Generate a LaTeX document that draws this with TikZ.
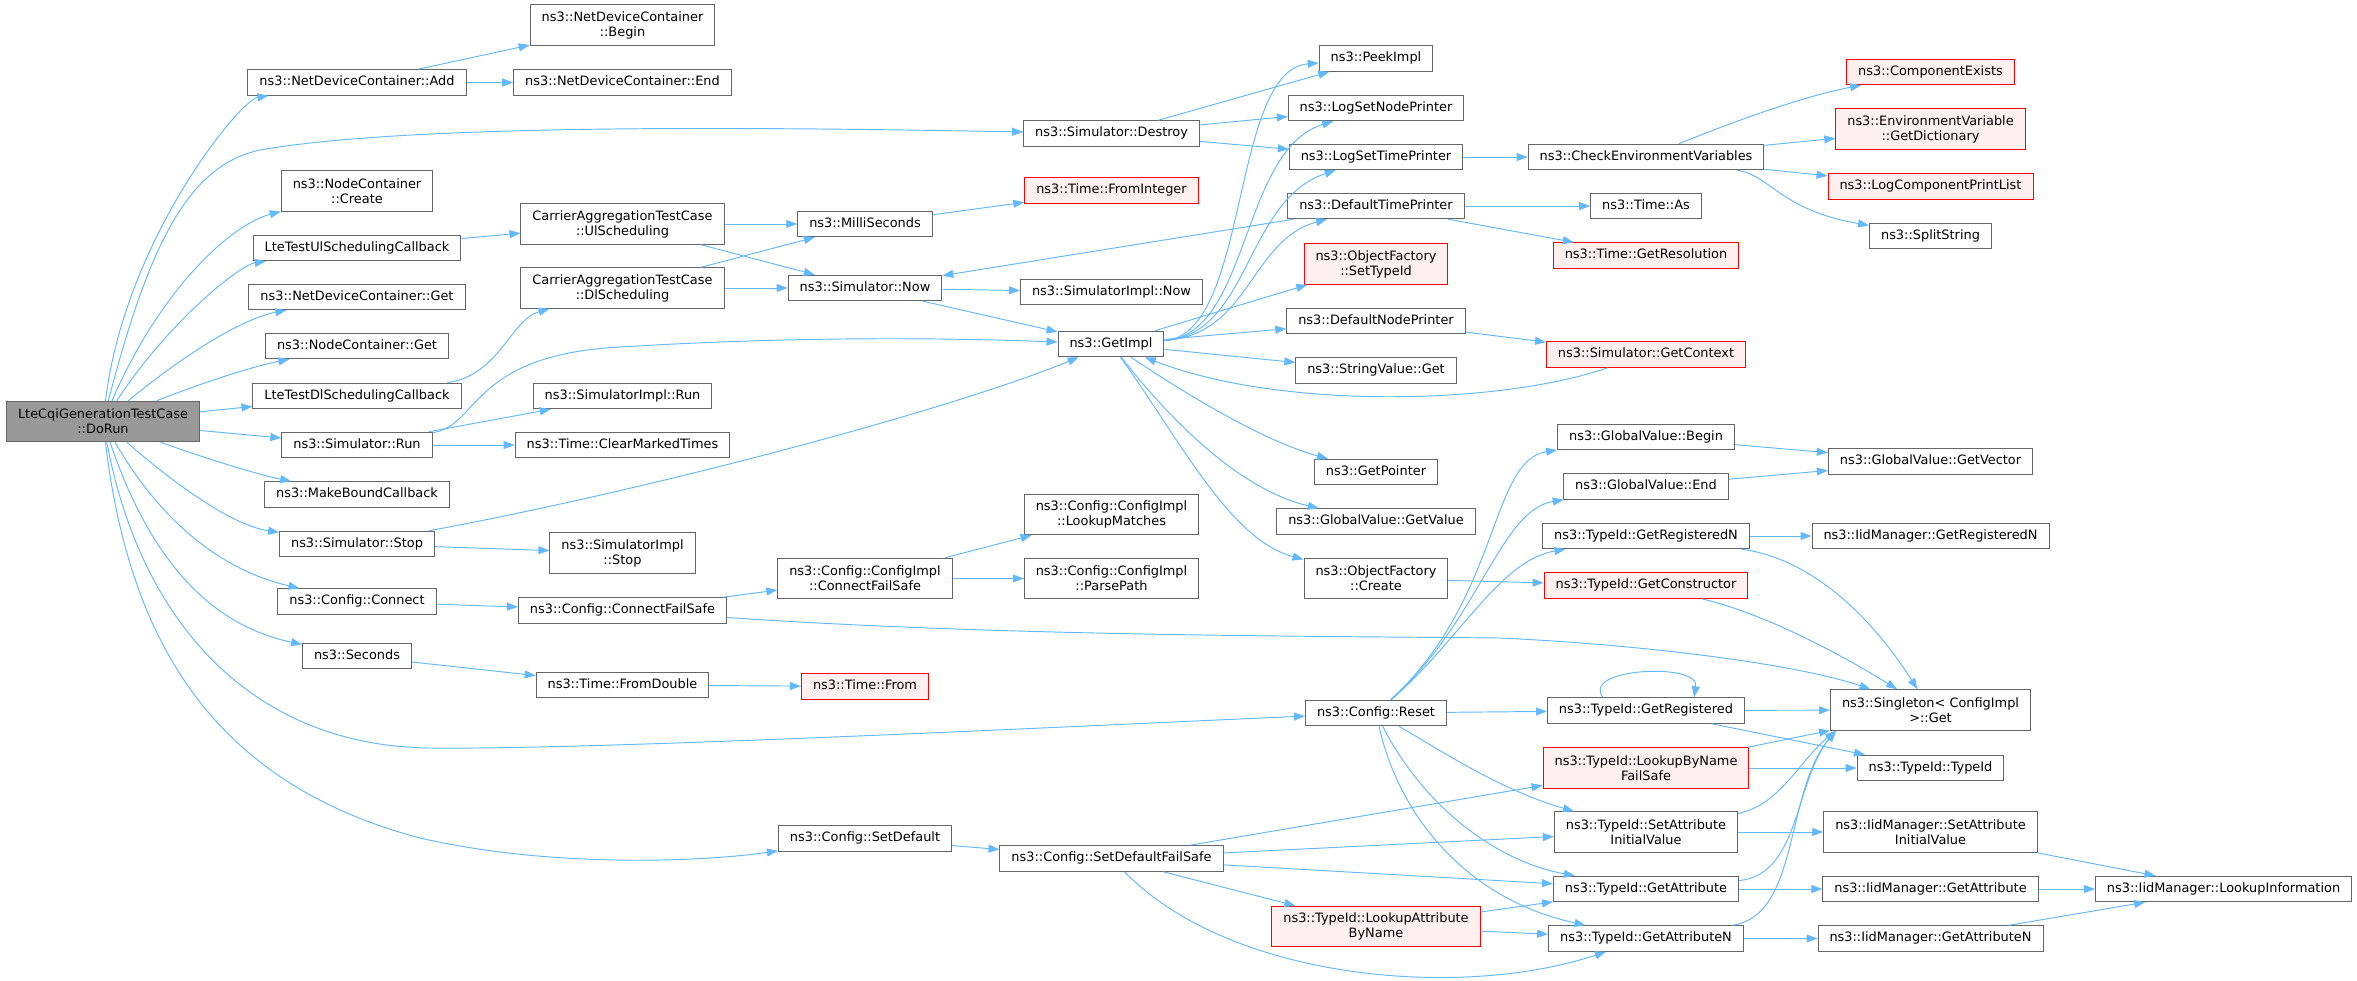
\documentclass[tikz,border=0pt]{standalone}
\usepackage{fontspec}
\setmainfont{DejaVu Sans}
\usepackage{tikz}
\usetikzlibrary{arrows.meta}
\definecolor{edgeblue}{HTML}{63B8FF}
\definecolor{boxgray}{HTML}{666666}
\definecolor{hotfill}{HTML}{FFF0F0}
\definecolor{rootfill}{HTML}{999999}

\begin{document}
\begin{tikzpicture}[x=1pt,y=-1pt,
    fnbase/.style={draw=boxgray, line width=1pt, fill=white, inner xsep=11.5pt, inner ysep=2pt, font=\fontsize{12.9}{15}\selectfont},
    fn/.style={fnbase, minimum height=25.5pt, text height=9.6pt, text depth=2.9pt},
    fnn/.style={fnbase, minimum height=40.5pt, align=center},
    hot/.style={draw=red, fill=hotfill},
    root/.style={fill=rootfill},
    call/.style={draw=edgeblue, line width=0.95pt, -{Triangle[length=11pt,width=8pt]}}]
    \useasboundingbox (0,0) rectangle (2357,981);

    % The caller
    \node[fnn, root] (run) at (103,421.5) {LteCqiGenerationTestCase\\::DoRun};

    % Functions called by DoRun
    \node[fn] (ndcadd) at (357,82.5) {ns3::NetDeviceContainer::Add};
    \node[fnn] (nccreate) at (357,191) {ns3::NodeContainer\\::Create};
    \node[fn] (ulcb) at (357,248) {LteTestUlSchedulingCallback};
    \node[fn] (ndcget) at (357,297) {ns3::NetDeviceContainer::Get};
    \node[fn] (ncget) at (357,346) {ns3::NodeContainer::Get};
    \node[fn] (dlcb) at (357,396) {LteTestDlSchedulingCallback};
    \node[fn] (simrun) at (357,445) {ns3::Simulator::Run};
    \node[fn] (mkcb) at (357,494.5) {ns3::MakeBoundCallback};
    \node[fn] (simstop) at (357,544) {ns3::Simulator::Stop};
    \node[fn] (connect) at (357,601.5) {ns3::Config::Connect};
    \node[fn] (seconds) at (357,656) {ns3::Seconds};

    % Third column
    \node[fnn] (ndcbegin) at (622.5,25) {ns3::NetDeviceContainer\\::Begin};
    \node[fn] (ndcend) at (622.5,82.5) {ns3::NetDeviceContainer::End};
    \node[fnn] (ulsched) at (622.5,224) {CarrierAggregationTestCase\\::UlScheduling};
    \node[fnn] (dlsched) at (622.5,288) {CarrierAggregationTestCase\\::DlScheduling};
    \node[fn] (implrun) at (622.5,396) {ns3::SimulatorImpl::Run};
    \node[fn] (clearmarked) at (622.5,445) {ns3::Time::ClearMarkedTimes};
    \node[fnn] (implstop) at (622.5,553) {ns3::SimulatorImpl\\::Stop};
    \node[fn] (connectfs) at (622.5,610.5) {ns3::Config::ConnectFailSafe};
    \node[fn] (fromdouble) at (622.5,685) {ns3::Time::FromDouble};

    % Fourth column
    \node[fn] (milli) at (865,224) {ns3::MilliSeconds};
    \node[fn] (now) at (865,288) {ns3::Simulator::Now};
    \node[fnn] (implconnect) at (865,578.5) {ns3::Config::ConfigImpl\\::ConnectFailSafe};
    \node[fn, hot] (timefrom) at (865,686.5) {ns3::Time::From};
    \node[fn] (setdefault) at (865,838.5) {ns3::Config::SetDefault};

    % Fifth column
    \node[fn] (destroy) at (1111.5,133.5) {ns3::Simulator::Destroy};
    \node[fn, hot] (frominteger) at (1111.5,190.5) {ns3::Time::FromInteger};
    \node[fn] (implnow) at (1111.5,292) {ns3::SimulatorImpl::Now};
    \node[fn] (getimpl) at (1111,344) {ns3::GetImpl};
    \node[fnn] (lookupmatches) at (1111.5,514.5) {ns3::Config::ConfigImpl\\::LookupMatches};
    \node[fnn] (parsepath) at (1111.5,578.5) {ns3::Config::ConfigImpl\\::ParsePath};
    \node[fn] (setdefaultfs) at (1111.5,858.5) {ns3::Config::SetDefaultFailSafe};

    % Sixth column
    \node[fn] (peekimpl) at (1376,58.5) {ns3::PeekImpl};
    \node[fn] (lognode) at (1376,108) {ns3::LogSetNodePrinter};
    \node[fn] (logtime) at (1376,157) {ns3::LogSetTimePrinter};
    \node[fn] (deftime) at (1376,206) {ns3::DefaultTimePrinter};
    \node[fnn, hot] (settypeid) at (1376,264) {ns3::ObjectFactory\\::SetTypeId};
    \node[fn] (defnode) at (1376,321) {ns3::DefaultNodePrinter};
    \node[fn] (strget) at (1376,370.5) {ns3::StringValue::Get};
    \node[fn] (getpointer) at (1376,472) {ns3::GetPointer};
    \node[fn] (gvgetvalue) at (1376,521.5) {ns3::GlobalValue::GetValue};
    \node[fnn] (ofcreate) at (1376,578.5) {ns3::ObjectFactory\\::Create};
    \node[fn] (reset) at (1376,713) {ns3::Config::Reset};
    \node[fnn, hot] (lookupattr) at (1376,926.5) {ns3::TypeId::LookupAttribute\\ByName};

    % Seventh column
    \node[fn] (checkenv) at (1646,157) {ns3::CheckEnvironmentVariables};
    \node[fn] (timeas) at (1646,206) {ns3::Time::As};
    \node[fn, hot] (getres) at (1646,255.5) {ns3::Time::GetResolution};
    \node[fn, hot] (getcontext) at (1646,354.5) {ns3::Simulator::GetContext};
    \node[fn] (gvbegin) at (1646,437) {ns3::GlobalValue::Begin};
    \node[fn] (gvend) at (1646,486.5) {ns3::GlobalValue::End};
    \node[fn] (getregn) at (1646,536) {ns3::TypeId::GetRegisteredN};
    \node[fn, hot] (getctor) at (1646,585.5) {ns3::TypeId::GetConstructor};
    \node[fn] (getreg) at (1646,710.5) {ns3::TypeId::GetRegistered};
    \node[fnn, hot] (lookupname) at (1646,768) {ns3::TypeId::LookupByName\\FailSafe};
    \node[fnn] (setattrinit) at (1646,832) {ns3::TypeId::SetAttribute\\InitialValue};
    \node[fn] (getattr) at (1646,889) {ns3::TypeId::GetAttribute};
    \node[fn] (getattrn) at (1646,938.5) {ns3::TypeId::GetAttributeN};

    % Eighth column
    \node[fn, hot] (compexists) at (1930.5,72) {ns3::ComponentExists};
    \node[fnn, hot] (getdict) at (1930.5,129) {ns3::EnvironmentVariable\\::GetDictionary};
    \node[fn, hot] (printlist) at (1930.5,186.5) {ns3::LogComponentPrintList};
    \node[fn] (splitstring) at (1930.5,236) {ns3::SplitString};
    \node[fn] (gvgetvector) at (1930.5,461.5) {ns3::GlobalValue::GetVector};
    \node[fn] (iidgetregn) at (1930.5,536) {ns3::IidManager::GetRegisteredN};
    \node[fnn] (singleton) at (1930.5,710) {ns3::Singleton< ConfigImpl\\>::Get};
    \node[fn] (typeidctor) at (1930.5,768) {ns3::TypeId::TypeId};
    \node[fnn] (iidsetattr) at (1930.5,832) {ns3::IidManager::SetAttribute\\InitialValue};
    \node[fn] (iidgetattr) at (1930.5,889) {ns3::IidManager::GetAttribute};
    \node[fn] (iidgetattrn) at (1930.5,938.5) {ns3::IidManager::GetAttributeN};
    \node[fn] (lookupinfo) at (2223.5,889) {ns3::IidManager::LookupInformation};

    % Calls from DoRun
    \draw[call] (run) .. controls (125,240) and (240,100) .. (ndcadd);
    \draw[call] (run) .. controls (150,240) and (190,165) .. (260,150) .. controls (420,122) and (800,128) .. (destroy);
    \draw[call] (run) .. controls (160,290) and (230,225) .. (nccreate);
    \draw[call] (run) .. controls (170,320) and (240,265) .. (ulcb);
    \draw[call] (run) .. controls (190,350) and (245,318) .. (ndcget);
    \draw[call] (run) .. controls (210,380) and (255,366) .. (ncget);
    \draw[call] (run) -- (dlcb);
    \draw[call] (run) -- (simrun);
    \draw[call] (run) .. controls (210,460) and (260,475) .. (mkcb);
    \draw[call] (run) .. controls (170,480) and (230,525) .. (simstop);
    \draw[call] (run) .. controls (160,520) and (220,570) .. (connect);
    \draw[call] (run) .. controls (150,560) and (210,625) .. (seconds);
    \draw[call] (run) .. controls (140,620) and (250,746) .. (430,748) .. controls (600,750) and (1100,725) .. (reset);
    \draw[call] (run) .. controls (130,650) and (220,785) .. (420,838) .. controls (550,868) and (700,862) .. (setdefault);

    % Second level
    \draw[call] (ndcadd) -- (ndcbegin);
    \draw[call] (ndcadd) -- (ndcend);
    \draw[call] (ulcb) -- (ulsched);
    \draw[call] (dlcb) .. controls (500,375) and (510,320) .. (dlsched);
    \draw[call] (ulsched) -- (milli);
    \draw[call] (ulsched) -- (now);
    \draw[call] (dlsched) -- (milli);
    \draw[call] (dlsched) -- (now);
    \draw[call] (milli) -- (frominteger);
    \draw[call] (now) -- (implnow);
    \draw[call] (now) -- (getimpl);
    \draw[call] (simrun) -- (implrun);
    \draw[call] (simrun) -- (clearmarked);
    \draw[call] (simrun) .. controls (480,425) and (470,355) .. (620,347) .. controls (800,336) and (950,338) .. (getimpl);
    \draw[call] (simstop) -- (implstop);
    \draw[call] (simstop) .. controls (650,490) and (950,410) .. (getimpl);
    \draw[call] (connect) -- (connectfs);
    \draw[call] (connectfs) -- (implconnect);
    \draw[call] (connectfs) .. controls (1000,636) and (1300,636) .. (1500,638) .. controls (1650,645) and (1800,665) .. (singleton);
    \draw[call] (implconnect) -- (lookupmatches);
    \draw[call] (implconnect) -- (parsepath);
    \draw[call] (seconds) -- (fromdouble);
    \draw[call] (fromdouble) -- (timefrom);
    \draw[call] (setdefault) -- (setdefaultfs);

    % Destroy and GetImpl
    \draw[call] (destroy) -- (peekimpl);
    \draw[call] (destroy) -- (lognode);
    \draw[call] (destroy) -- (logtime);
    \draw[call] (getimpl) .. controls (1250,335) and (1230,70) .. (peekimpl);
    \draw[call] (getimpl) .. controls (1250,335) and (1240,150) .. (lognode);
    \draw[call] (getimpl) .. controls (1250,335) and (1245,200) .. (logtime);
    \draw[call] (getimpl) .. controls (1250,335) and (1250,240) .. (deftime);
    \draw[call] (getimpl) -- (settypeid);
    \draw[call] (getimpl) -- (defnode);
    \draw[call] (getimpl) -- (strget);
    \draw[call] (getimpl) .. controls (1180,390) and (1260,440) .. (getpointer);
    \draw[call] (getimpl) .. controls (1170,420) and (1240,490) .. (gvgetvalue);
    \draw[call] (getimpl) .. controls (1180,440) and (1230,540) .. (ofcreate);
    \draw[call] (logtime) -- (checkenv);
    \draw[call] (deftime) -- (now);
    \draw[call] (deftime) -- (timeas);
    \draw[call] (deftime) -- (getres);
    \draw[call] (defnode) -- (getcontext);
    \draw[call] (getcontext) .. controls (1500,405) and (1280,410) .. (getimpl);
    \draw[call] (ofcreate) -- (getctor);
    \draw[call] (checkenv) .. controls (1750,115) and (1810,95) .. (compexists);
    \draw[call] (checkenv) -- (getdict);
    \draw[call] (checkenv) -- (printlist);
    \draw[call] (checkenv) .. controls (1770,175) and (1780,210) .. (splitstring);

    % Calls from Reset
    \draw[call] (reset) .. controls (1500,600) and (1490,460) .. (gvbegin);
    \draw[call] (reset) .. controls (1480,620) and (1500,510) .. (gvend);
    \draw[call] (reset) .. controls (1460,640) and (1500,560) .. (getregn);
    \draw[call] (reset) -- (getreg);
    \draw[call] (reset) .. controls (1440,750) and (1500,790) .. (setattrinit);
    \draw[call] (reset) .. controls (1420,800) and (1490,860) .. (getattr);
    \draw[call] (reset) .. controls (1400,820) and (1470,900) .. (getattrn);
    \draw[call] (gvbegin) -- (gvgetvector);
    \draw[call] (gvend) -- (gvgetvector);

    % Calls from SetDefaultFailSafe
    \draw[call] (setdefaultfs) -- (lookupname);
    \draw[call] (setdefaultfs) -- (setattrinit);
    \draw[call] (setdefaultfs) -- (getattr);
    \draw[call] (setdefaultfs) -- (lookupattr);
    \draw[call] (setdefaultfs) .. controls (1230,980) and (1460,1000) .. (getattrn);
    \draw[call] (lookupattr) -- (getattr);
    \draw[call] (lookupattr) -- (getattrn);

    % TypeId calls
    \draw[call] (getregn) -- (iidgetregn);
    \draw[call] (getregn) .. controls (1820,560) and (1880,630) .. (singleton);
    \draw[call] (getctor) .. controls (1770,615) and (1850,660) .. (singleton);
    \draw[call] ([xshift=-43pt]getreg.north) .. controls (1580,668) and (1700,662) .. ([xshift=48pt]getreg.north);
    \draw[call] (getreg) -- (singleton);
    \draw[call] (getreg) -- (typeidctor);
    \draw[call] (lookupname) -- (singleton);
    \draw[call] (lookupname) -- (typeidctor);
    \draw[call] (setattrinit) .. controls (1780,805) and (1800,760) .. ([xshift=6pt]singleton.south west);
    \draw[call] (getattr) .. controls (1800,875) and (1795,780) .. ([xshift=6pt]singleton.south west);
    \draw[call] (getattrn) .. controls (1800,915) and (1785,790) .. ([xshift=6pt]singleton.south west);
    \draw[call] (setattrinit) -- (iidsetattr);
    \draw[call] (getattr) -- (iidgetattr);
    \draw[call] (getattrn) -- (iidgetattrn);
    \draw[call] (iidsetattr) -- (lookupinfo);
    \draw[call] (iidgetattr) -- (lookupinfo);
    \draw[call] (iidgetattrn) -- (lookupinfo);
\end{tikzpicture}
\end{document}
